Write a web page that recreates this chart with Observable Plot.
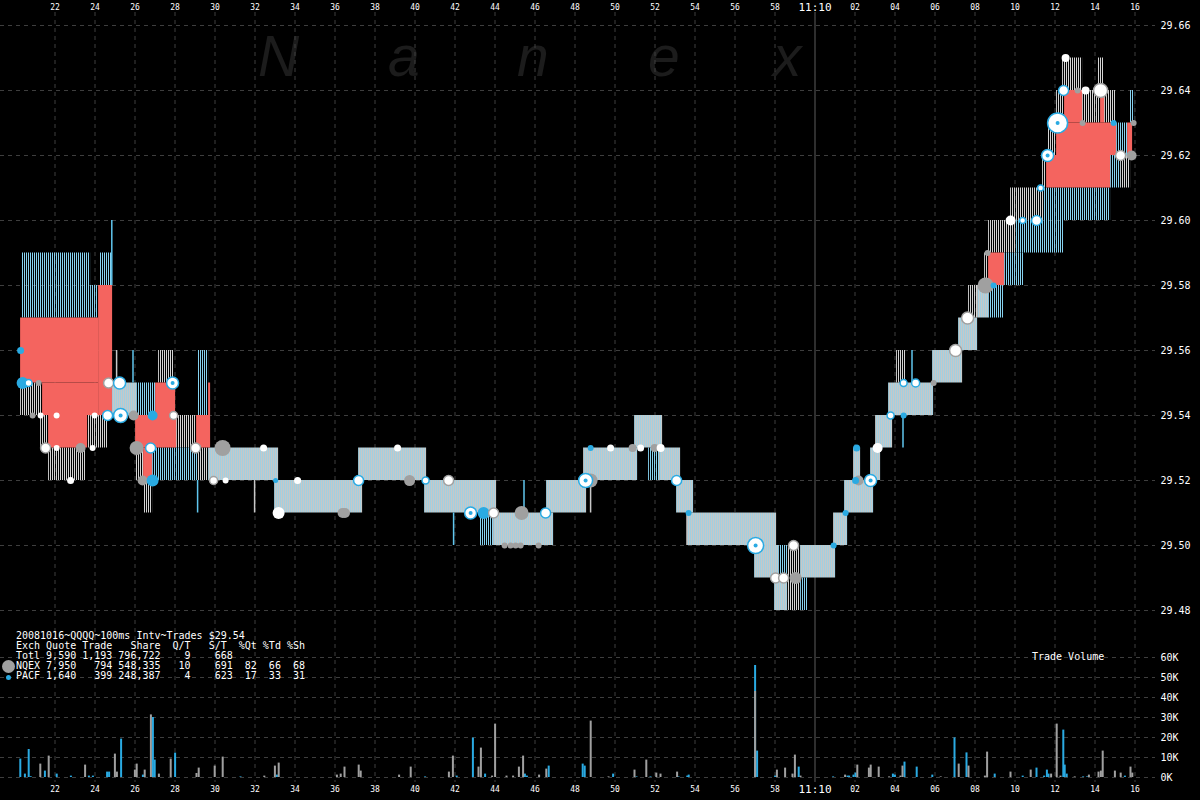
<!DOCTYPE html>
<html><head><meta charset="utf-8">
<script src="https://cdn.jsdelivr.net/npm/d3@7"></script>
<script src="https://cdn.jsdelivr.net/npm/@observablehq/plot@0.6"></script>
<style>
html,body{margin:0;padding:0;background:#000;}
#wrap{position:relative;width:1200px;height:800px;overflow:hidden;background:#000;}
#wrap svg.chart{position:absolute;left:0;top:0;}
.wm{position:absolute;top:28px;font:italic 57px/57px "Liberation Sans",Arial,sans-serif;color:#1c1c1c;}
#legend{position:absolute;left:16px;top:631px;margin:0;font:10px/10px "DejaVu Sans Mono",monospace;color:#fff;white-space:pre;}
#tv{position:absolute;left:1032px;top:652px;font:10px/10px "DejaVu Sans Mono",monospace;color:#fff;}
.ld{position:absolute;border-radius:50%;}
</style></head>
<body>
<svg width="0" height="0" style="position:absolute">
  <defs>
    <pattern id="pg" width="2" height="4" patternUnits="userSpaceOnUse"><rect x="0" y="0" width="1" height="4" fill="#d4d4d4"/></pattern>
    <pattern id="pb" width="2" height="4" patternUnits="userSpaceOnUse"><rect x="0" y="0" width="1" height="4" fill="#86d2f0"/></pattern>
    <pattern id="pm" width="2" height="4" patternUnits="userSpaceOnUse"><rect x="0" y="0" width="1" height="4" fill="#a2cfe0"/><rect x="1" y="0" width="1" height="4" fill="#c6c8c8"/></pattern>
  </defs>
</svg>
<div id="wrap">
  <div class="wm" style="left:258px">N</div>
  <div class="wm" style="left:388px">a</div>
  <div class="wm" style="left:517px">n</div>
  <div class="wm" style="left:648px">e</div>
  <div class="wm" style="left:773px">x</div>
</div>
<script>
// ---- time in seconds after 11:09:00 ----
const timeTicks = [22,24,26,28,30,32,34,36,38,40,42,44,46,48,50,52,54,56,58,62,64,66,68,70,72,74,76];
const minuteTick = [60];
const priceTicks = [29.48,29.50,29.52,29.54,29.56,29.58,29.60,29.62,29.64,29.66];
const volTicks = [0,10000,20000,30000,40000,50000,60000];

// quote bands [tStart, tEnd, low, high]
const redBands = [
  [20.28,24.18,29.55,29.57],[24.18,24.88,29.54,29.58],[21.38,24.18,29.54,29.55],[21.68,23.63,29.53,29.54],
  [27.03,28.03,29.54,29.55],[26.03,28.08,29.53,29.54],[26.43,26.88,29.52,29.53],[29.08,29.78,29.53,29.54],
  [29.68,29.78,29.54,29.55],[68.68,69.48,29.58,29.59],[71.58,74.78,29.61,29.62],[72.08,75.08,29.62,29.63],
  [75.63,75.88,29.62,29.63],[72.48,73.38,29.63,29.64],[74.28,74.48,29.63,29.64]
];
const grayBands = [
  [20.28,21.38,29.54,29.55],[21.28,21.68,29.53,29.54],[23.63,24.63,29.53,29.54],[21.68,23.53,29.52,29.53],
  [27.18,27.93,29.55,29.56],[26.03,26.43,29.52,29.53],[26.43,26.88,29.51,29.52],[28.08,29.08,29.53,29.54],
  [29.13,29.68,29.52,29.53],[58.63,59.28,29.48,29.50],[64.08,64.53,29.55,29.56],[67.68,68.13,29.57,29.58],
  [68.48,68.68,29.58,29.59],[68.68,70.03,29.59,29.60],[69.78,71.43,29.60,29.61],[71.38,71.58,29.61,29.62],
  [75.28,75.78,29.61,29.62],[71.63,72.08,29.62,29.63],[72.08,72.48,29.63,29.64],[73.38,74.28,29.63,29.64],
  [74.48,75.03,29.63,29.64],[72.38,73.38,29.64,29.65],[74.13,74.43,29.64,29.65]
];
const blueBands = [
  [20.33,23.78,29.57,29.59],[23.78,24.18,29.57,29.58],[24.23,24.83,29.58,29.59],[26.08,27.03,29.54,29.55],
  [26.88,29.13,29.52,29.53],[29.13,29.68,29.54,29.56],[43.23,43.93,29.50,29.51],[51.68,52.23,29.52,29.53],
  [58.18,58.63,29.49,29.50],[59.28,59.63,29.48,29.49],[68.68,69.43,29.57,29.58],[69.48,70.43,29.58,29.59],
  [70.03,72.43,29.59,29.60],[71.43,74.78,29.60,29.61],[74.78,75.28,29.61,29.62],[75.08,75.63,29.62,29.63],
  [75.73,75.98,29.63,29.64]
];
const mixedBands = [
  [24.73,26.08,29.54,29.55],[29.68,33.18,29.52,29.53],[32.98,37.38,29.51,29.52],[37.18,40.58,29.52,29.53],
  [40.48,44.08,29.51,29.52],[43.93,46.93,29.50,29.51],[46.58,48.58,29.51,29.52],[48.43,51.13,29.52,29.53],
  [50.98,52.38,29.53,29.54],[52.23,53.28,29.52,29.53],[53.08,53.93,29.51,29.52],[53.63,58.08,29.50,29.51],
  [56.98,58.18,29.49,29.50],[57.98,58.63,29.48,29.49],[59.28,61.03,29.49,29.50],[60.93,61.63,29.50,29.51],
  [61.48,62.93,29.51,29.52],[61.93,62.28,29.52,29.53],[62.78,63.28,29.52,29.53],[63.03,63.88,29.53,29.54],
  [63.68,65.93,29.54,29.55],[65.88,67.38,29.55,29.56],[67.18,68.13,29.56,29.57],[68.13,68.68,29.57,29.58]
];
// single-interval quote lines [t, low, high]
const grayLines = [[25.08,29.55,29.56],[31.98,29.51,29.52],[48.78,29.51,29.52],[53.6,29.50,29.51]];
const blueLines = [[24.84,29.58,29.60],[25.9,29.55,29.56],[29.13,29.51,29.52],[41.93,29.50,29.51],[45.45,29.51,29.52],[64.4,29.53,29.54],[64.85,29.55,29.56]];

// trades [t, price, radius]
const blueTrades = [[20.28,29.56,3.5],[20.38,29.55,6],[26.88,29.52,6],[26.88,29.54,5],[43.43,29.51,6],[33.03,29.52,2.5],
  [48.78,29.53,3],[53.68,29.51,3],[60.93,29.50,3],[61.53,29.51,3],[62.03,29.52,3.5],[62.08,29.53,3.5],[64.43,29.54,3],
  [68.93,29.58,3],[74.93,29.63,3]];
const grayTrades = [[21.18,29.55,3],[20.88,29.54,3],[23.28,29.53,5],[26.08,29.53,7],[25.93,29.54,5],[26.38,29.52,5],
  [30.38,29.53,8],[36.38,29.51,5],[36.5,29.51,5],[39.73,29.52,5.5],[45.33,29.51,7],[48.78,29.52,7],[44.48,29.50,3],
  [44.78,29.50,3],[45.03,29.50,3],[45.28,29.50,3],[46.18,29.50,3],[59.03,29.49,6],[62.18,29.52,5],[65.93,29.55,3],
  [68.53,29.58,8],[68.63,29.59,3],[73.13,29.64,3],[73.38,29.63,3],[75.83,29.62,5],[75.93,29.63,3],[50.88,29.53,4],[51.98,29.53,4]];
const whiteBlueTrades = [[24.63,29.54,5],[25.28,29.54,7],[25.23,29.55,6],[26.78,29.53,5],[27.88,29.55,6],[37.18,29.52,5],
  [40.53,29.52,3.5],[42.78,29.51,6],[46.53,29.51,5],[48.53,29.52,7],[53.08,29.52,5],[57.03,29.50,8],[62.78,29.52,6],
  [65.03,29.55,4],[71.08,29.60,5],[71.63,29.62,6],[72.13,29.63,10],[72.43,29.64,5],[64.43,29.55,3.5],[20.68,29.55,3.5],
  [70.38,29.60,3],[71.28,29.61,3],[63.78,29.54,3.5]];
const whiteGrayTrades = [[21.53,29.53,5],[24.68,29.55,5],[29.03,29.53,5],[29.93,29.52,4],[41.68,29.52,5],[43.93,29.51,5],
  [58.93,29.50,5],[58.03,29.49,5],[58.43,29.49,5],[67.03,29.56,6],[67.63,29.57,6],[74.28,29.64,7],[75.28,29.62,5],[27.93,29.54,4]];
const whiteTrades = [[21.28,29.54,3],[22.08,29.54,3],[22.08,29.53,3],[22.78,29.52,3.5],[23.88,29.53,3],[23.98,29.54,3],
  [30.53,29.52,3],[32.43,29.53,3.5],[34.13,29.52,3.5],[39.13,29.53,3.5],[49.78,29.53,3.5],[51.28,29.53,3.5],[52.28,29.53,4],
  [63.13,29.53,5],[69.78,29.60,5],[72.53,29.65,4],[73.53,29.64,4],[33.18,29.51,6]];
// blue centre marks inside some white trade markers [t, price]
const innerBlue = [[25.28,29.54],[27.88,29.55],[48.53,29.52],[57.03,29.50],[62.78,29.52],[72.13,29.63],[42.78,29.51],[71.63,29.62]];

// trade volume per 100ms [t, shares]
const blueVolume = [[20.29,9200],[20.52,1700],[20.71,14000],[20.81,400],[21.52,3200],[22.11,1700],[22.82,700],[23.72,700],
  [23.92,700],[24.63,2700],[24.73,2700],[25.33,19200],[26.42,1200],[26.92,30000],[27.01,8700],[28.03,12200],[31.3,300],
  [33.12,1200],[40.53,300],[42.11,700],[42.92,19700],[43.53,1700],[45.52,1700],[45.62,700],[46.71,5700],[48.41,6700],
  [48.51,5700],[49.93,1700],[51.1,300],[51.8,300],[53.2,300],[53.64,700],[53.71,1200],[57.03,56000],[57.13,13200],
  [58.03,700],[59.21,5200],[60.93,300],[61.65,700],[61.73,700],[61.95,1200],[62.05,2200],[63.92,1700],[64.02,1200],
  [64.5,7700],[65.11,5200],[65.89,1200],[67.0,19800],[67.6,12300],[69.01,1700],[70.41,700],[71.1,4700],[71.48,700],
  [71.62,3700],[71.7,1700],[72.44,23700],[72.51,6200],[72.61,1700],[73.43,300],[73.63,300],[75.52,700]];
const grayVolume = [[21.29,6700],[21.71,10700],[23.53,6200],[25.02,11700],[25.12,2700],[26.02,3700],[26.11,6700],[26.51,3700],
  [26.82,31300],[27.22,1700],[27.81,9200],[29.1,2000],[29.21,4700],[30.01,5700],[30.41,10200],[32.49,700],[33.02,5700],
  [33.21,7200],[36.12,1200],[36.31,1700],[36.5,5200],[37.21,6200],[37.31,3200],[39.23,1200],[39.81,5200],[41.72,2700],
  [41.92,10700],[43.2,5200],[43.32,14700],[43.88,700],[44.03,26700],[44.6,700],[44.93,700],[45.22,5200],[45.43,10700],
  [46.23,1200],[46.59,4200],[48.81,28200],[49.7,300],[51.0,3700],[51.59,8700],[52.09,2200],[52.3,1700],[53.13,2700],
  [57.03,43000],[58.12,3700],[58.53,4700],[58.9,1700],[59.02,11200],[59.3,700],[61.53,1200],[62.14,6200],[62.72,4700],
  [62.81,6200],[63.21,5200],[63.73,300],[64.3,700],[64.4,5700],[66.31,300],[67.21,6700],[67.7,5700],[68.52,700],
  [68.63,12700],[69.8,2700],[70.81,3700],[71.83,1700],[72.11,26700],[72.3,700],[73.01,300],[73.72,1200],[74.2,2700],
  [74.32,3200],[74.41,13200],[75.02,3200],[75.31,2200],[75.8,5200],[75.89,2200]];

const legendLines = [
  "20081016~QQQQ~100ms Intv~Trades $29.54",
  "Exch Quote Trade   Share  Q/T   S/T  %Qt %Td %Sh",
  "Totl 9,590 1,193 796,722    9    668",
  "NQEX 7,950   794 548,335   10    691  82  66  68",
  "PACF 1,640   399 248,387    4    623  17  33  31"
];

const X_DOMAIN = [19.275, 77.025];
const timeFmt = t => t === 60 ? "11:10" : String(t < 60 ? t : t - 60).padStart(2, "0");
const GRID = {stroke: "#3e3e3e", strokeOpacity: 1, strokeDasharray: "4,4"};
const band = (data, fill) => Plot.rect(data, {x1: d => d[0], x2: d => d[1], y1: d => d[2], y2: d => d[3], fill});
const qline = (data, stroke) => Plot.ruleX(data, {x: d => d[0], y1: d => d[1], y2: d => d[2], stroke, strokeWidth: 1.5});
const trade = (data, fill, stroke) => Plot.dot(data, {x: d => d[0], y: d => d[1], r: d => d[2], fill, stroke: stroke || "none", strokeWidth: 1.5});

const price = Plot.plot({
  width: 1200, height: 800,
  marginLeft: 0, marginRight: 45, marginTop: 12, marginBottom: 18,
  style: {background: "transparent", color: "#fff", fontFamily: "'DejaVu Sans Mono', monospace"},
  x: {type: "linear", domain: X_DOMAIN, axis: null},
  y: {type: "linear", domain: [29.42708, 29.664], axis: null},
  r: {type: "identity"},
  marks: [
    Plot.gridX(timeTicks, GRID),
    Plot.gridY(priceTicks, GRID),
    Plot.ruleX(minuteTick, {stroke: "#5c5c5c", strokeWidth: 1}),
    band(mixedBands, "url(#pm)"),
    band(grayBands, "url(#pg)"),
    band(blueBands, "url(#pb)"),
    band(redBands, "#f4645f"),
    qline(grayLines, "#c8c8c8"),
    qline(blueLines, "#60c6ee"),
    trade(grayTrades, "#a0a0a0"),
    trade(blueTrades, "#2aaae2"),
    trade(whiteGrayTrades, "#ffffff", "#a0a0a0"),
    trade(whiteBlueTrades, "#ffffff", "#2aaae2"),
    trade(whiteTrades, "#ffffff"),
    Plot.dot(innerBlue, {x: d => d[0], y: d => d[1], r: 2, fill: "#2aaae2"}),
    Plot.axisX(timeTicks, {anchor: "top", tickSize: 0, tickPadding: 3, tickFormat: timeFmt, fontSize: 8}),
    Plot.axisX(minuteTick, {anchor: "top", tickSize: 0, tickPadding: 2, tickFormat: timeFmt, fontSize: 11}),
    Plot.axisX(timeTicks, {anchor: "bottom", tickSize: 0, tickPadding: 4, tickFormat: timeFmt, fontSize: 8}),
    Plot.axisX(minuteTick, {anchor: "bottom", tickSize: 0, tickPadding: 3, tickFormat: timeFmt, fontSize: 11}),
    Plot.axisY(priceTicks, {anchor: "right", tickSize: 0, tickPadding: 5, tickFormat: d => d.toFixed(2), fontSize: 10})
  ]
});
price.classList.add("chart");

const volume = Plot.plot({
  width: 1200, height: 800,
  marginLeft: 0, marginRight: 45, marginTop: 657, marginBottom: 23,
  style: {background: "transparent", color: "#fff", fontFamily: "'DejaVu Sans Mono', monospace"},
  x: {type: "linear", domain: X_DOMAIN, axis: null},
  y: {type: "linear", domain: [0, 60000], axis: null},
  marks: [
    Plot.gridY(volTicks, GRID),
    Plot.rect(blueVolume, {x1: d => d[0] - 0.05, x2: d => d[0] + 0.05, y1: d => 0, y2: d => d[1], fill: "#2aaae2"}),
    Plot.rect(grayVolume, {x1: d => d[0] - 0.05, x2: d => d[0] + 0.05, y1: d => 0, y2: d => d[1], fill: "#a0a0a0"}),
    Plot.axisY(volTicks, {anchor: "right", tickSize: 0, tickPadding: 5, tickFormat: d => (d / 1000) + "K", fontSize: 10})
  ]
});
volume.classList.add("chart");

const wrap = document.getElementById("wrap");
wrap.appendChild(price);
wrap.appendChild(volume);

const legend = document.createElement("pre");
legend.id = "legend";
legend.textContent = legendLines.join("\n");
wrap.appendChild(legend);

const d1 = document.createElement("div");
d1.className = "ld";
d1.style.cssText = "left:2px;top:660px;width:13px;height:13px;background:#a0a0a0;";
wrap.appendChild(d1);
const d2 = document.createElement("div");
d2.className = "ld";
d2.style.cssText = "left:5.5px;top:674.5px;width:5px;height:5px;background:#2aaae2;";
wrap.appendChild(d2);

const tv = document.createElement("div");
tv.id = "tv";
tv.textContent = "Trade Volume";
wrap.appendChild(tv);
</script>
</body></html>
